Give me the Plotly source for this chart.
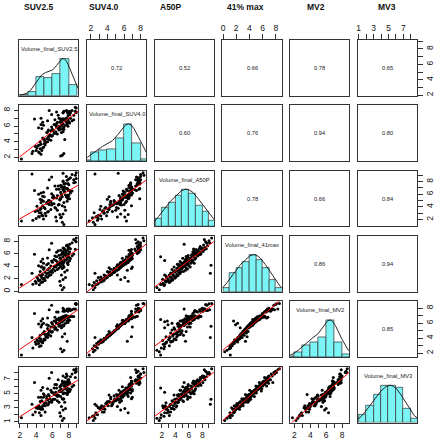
import numpy as np
import plotly.graph_objects as go

# ---------------- data ----------------
titles = ["SUV2.5", "SUV4.0", "A50P", "41% max", "MV2", "MV3"]
diag_names = ["Volume_final_SUV2.5", "Volume_final_SUV4.0", "Volume_final_A50P",
              "Volume_final_41max", "Volume_final_MV2", "Volume_final_MV3"]

suv25 = [7.2, 7.4, 7.0, 2.2, 4.4, 3.6, 6.9, 4.0, 4.6, 4.8, 3.9, 4.3, 5.1, 4.5, 7.3, 4.9,
         4.2, 5.0, 4.7, 5.4, 4.1, 7.6, 5.2, 4.6, 5.6, 4.4, 5.8, 4.8, 7.1, 5.3, 3.5, 5.5,
         6.0, 5.1, 7.5, 5.7, 4.5, 6.3, 5.9, 7.8, 5.4, 6.6, 4.9, 6.1, 7.2, 5.6, 6.8, 5.0,
         7.4, 6.4, 4.6, 4.7, 6.2, 7.0, 5.8, 4.3, 6.5, 7.3, 5.3, 7.9, 6.7, 7.1, 5.5, 4.9,
         6.9, 7.8, 6.0, 7.4, 7.2, 6.6, 4.6, 5.9, 7.0, 8.1, 6.4, 7.6, 7.3, 6.8, 7.9, 7.1,
         7.5, 6.2, 7.8, 4.8, 8.2, 6.9, 5.4, 7.0, 8.0, 7.3, 6.5, 7.7, 6.3, 8.4, 7.9, 6.8,
         7.5, 7.5, 7.1, 3.8, 8.6, 7.4, 8.0, 7.7, 7.2, 6.5, 7.6, 8.1, 7.3, 6.7, 7.8, 7.0,
         5.6, 7.5, 8.8, 7.9, 8.2, 7.4, 7.3, 8.0, 7.9, 7.7, 7.8, 8.1, 5.9, 8.4, 8.9, 8.8,
         8.6, 8.9]
suv40 = [2.3, 2.5, 2.2, 1.8, 2.6, 2.8, 6.5, 2.9, 2.4, 3.2, 3.4, 2.7, 3.6, 3.1, 5.6, 3.3,
         3.5, 3.8, 2.9, 4.0, 3.2, 6.1, 3.9, 3.7, 4.3, 3.6, 4.2, 4.5, 5.2, 4.4, 2.5, 4.6,
         4.8, 4.1, 4.3, 4.9, 4.0, 5.1, 4.7, 6.4, 5.3, 5.0, 4.4, 5.4, 6.9, 4.8, 5.5, 4.2,
         5.6, 5.3, 7.0, 5.7, 5.1, 5.6, 5.4, 5.8, 5.9, 5.3, 5.2, 6.0, 5.7, 6.2, 5.5, 6.1,
         5.8, 6.3, 5.6, 5.9, 6.0, 6.5, 6.2, 5.9, 6.6, 6.4, 6.1, 6.7, 6.3, 6.0, 6.5, 6.6,
         6.8, 6.2, 6.9, 6.5, 7.0, 5.8, 6.7, 6.9, 6.6, 6.9, 6.3, 6.6, 6.8, 6.7, 6.9, 7.0,
         6.8, 6.7, 6.6, 6.9, 6.8, 6.9, 7.6, 7.0, 6.9, 7.8, 6.8, 7.5, 7.7, 7.4, 7.9, 6.6,
         8.0, 6.9, 7.9, 7.3, 7.7, 7.9, 7.7, 7.8, 7.6, 8.0, 7.8, 7.9, 7.5, 8.0, 7.7, 8.4,
         7.4, 8.3]
a50p = [1.6, 1.25, 2.3, 1.8, 2.4, 1.9, 2.8, 2.2, 3.1, 2.6, 3.3, 2.5, 3.0, 3.6, 2.9, 2.1,
        3.4, 3.9, 2.7, 3.2, 4.1, 3.5, 2.6, 3.8, 4.4, 3.1, 3.6, 4.2, 2.4, 4.7, 9.2, 3.3,
        4.5, 3.7, 4.0, 4.8, 5.2, 3.9, 4.3, 5.5, 4.6, 3.5, 4.9, 5.8, 4.2, 5.0, 4.4, 5.6,
        4.7, 3.8, 6.2, 5.1, 4.5, 5.3, 4.8, 6.0, 5.4, 9.3, 4.6, 5.7, 4.3, 5.9, 5.0, 6.3,
        5.2, 4.9, 5.5, 6.5, 5.6, 5.8, 4.7, 6.1, 5.4, 6.6, 2.4, 5.9, 6.8, 4.4, 5.3, 6.0,
        6.4, 5.5, 6.9, 5.7, 6.2, 5.1, 7.0, 6.3, 5.8, 6.7, 1.8, 5.6, 7.3, 6.5, 5.9, 6.8,
        7.6, 6.4, 7.1, 6.6, 7.8, 7.0, 7.5, 6.9, 7.2, 6.8, 7.7, 6.6, 8.1, 7.3, 6.9, 7.4,
        8.3, 7.1, 7.9, 6.7, 8.6, 7.6, 8.0, 8.4, 7.7, 8.8, 8.2, 5.3, 8.7, 9.1, 8.5, 9.0,
        8.3, 9.4]
max41 = [0.25, 0.6, 0.95, 1.1, 1.05, 1.15, 1.6, 1.3, 1.4, 1.5, 1.6, 1.7, 1.75, 1.8, 1.9, 1.95,
         2.05, 2.1, 2.2, 2.25, 2.3, 2.2, 2.45, 2.5, 2.55, 2.6, 2.65, 2.7, 2.6, 2.85, 2.9, 2.95,
         3.0, 3.05, 3.1, 3.15, 3.2, 3.3, 3.35, 3.4, 3.45, 3.5, 3.55, 3.6, 3.65, 3.7, 3.75, 3.8,
         3.85, 3.9, 3.92, 3.95, 3.98, 4.0, 4.05, 4.1, 4.15, 4.2, 4.25, 4.3, 4.35, 4.4, 4.45, 4.5,
         4.55, 4.6, 4.65, 4.7, 4.72, 4.75, 4.8, 4.85, 4.88, 4.9, 4.95, 4.98, 4.5, 4.3, 4.62, 5.0,
         5.05, 5.1, 5.15, 5.2, 5.25, 5.3, 5.35, 5.4, 5.45, 5.5, 5.55, 5.6, 5.65, 5.7, 5.75, 5.8,
         5.85, 5.88, 5.9, 5.95, 5.98, 6.0, 6.05, 6.1, 6.2, 6.25, 6.3, 6.35, 6.4, 6.5, 6.55, 6.6,
         6.65, 6.7, 6.75, 6.8, 6.85, 6.9, 6.95, 7.05, 7.2, 7.3, 7.45, 7.55, 7.7, 7.8, 7.95, 8.1,
         8.3, 8.55]
mv2 = [2.2, 2.4, 2.6, 1.75, 2.9, 2.7, 6.3, 3.2, 3.0, 3.4, 3.5, 3.3, 3.8, 3.6, 5.8, 3.7,
       3.6, 3.9, 3.5, 4.1, 3.8, 6.0, 4.2, 3.9, 4.4, 4.0, 4.3, 4.6, 5.4, 4.5, 4.1, 4.7,
       4.9, 4.5, 4.6, 5.0, 4.4, 5.2, 4.8, 3.6, 5.3, 5.1, 4.7, 5.5, 4.2, 5.0, 5.6, 4.9,
       5.7, 5.4, 5.5, 5.8, 5.6, 5.7, 5.5, 5.9, 6.0, 5.6, 5.8, 6.1, 5.9, 6.2, 5.7, 6.0,
       6.1, 6.3, 5.9, 6.4, 6.2, 6.5, 6.3, 6.1, 6.6, 6.4, 6.2, 6.7, 6.5, 6.0, 6.4, 6.5,
       6.6, 6.3, 6.8, 6.6, 6.9, 6.4, 6.7, 6.6, 6.8, 6.9, 6.5, 7.0, 6.8, 6.9, 6.9, 6.7,
       6.95, 7.0, 6.8, 7.3, 6.9, 6.9, 6.95, 7.0, 6.8, 7.5, 6.9, 6.9, 7.6, 7.5, 7.7, 6.7,
       7.8, 7.6, 7.9, 6.8, 7.7, 7.8, 8.0, 7.9, 7.6, 7.7, 7.9, 7.9, 8.4, 7.8, 8.5, 8.6,
       7.9, 8.65]
mv3 = [1.2, 1.5, 1.8, 1.6, 2.3, 2.0, 2.3, 3.0, 1.9, 2.8, 2.4, 3.3, 2.4, 2.9, 2.7, 3.3,
       2.9, 3.6, 3.0, 3.4, 3.1, 2.9, 3.7, 2.8, 3.8, 3.2, 3.9, 3.3, 3.2, 4.3, 3.5, 3.5,
       4.1, 3.3, 3.8, 4.3, 3.9, 4.2, 3.8, 4.9, 4.1, 4.0, 4.5, 4.2, 4.3, 4.7, 3.8, 4.8,
       4.3, 4.8, 4.5, 4.0, 4.9, 4.6, 5.5, 4.5, 4.9, 4.2, 4.6, 5.2, 4.8, 5.3, 4.9, 5.0,
       5.3, 5.0, 5.2, 5.1, 5.5, 4.6, 5.5, 5.2, 5.6, 5.3, 5.2, 6.1, 5.0, 4.7, 5.2, 5.6,
       5.1, 5.8, 5.5, 5.9, 5.6, 6.0, 5.7, 6.1, 5.7, 6.6, 5.8, 5.9, 6.3, 6.0, 6.3, 5.4,
       6.5, 5.7, 6.3, 6.6, 6.2, 6.1, 6.7, 6.4, 6.8, 6.3, 7.3, 6.5, 6.6, 7.0, 6.7, 6.1,
       7.2, 6.7, 7.3, 6.8, 7.4, 6.5, 7.5, 7.0, 7.0, 7.8, 7.5, 6.6, 8.0, 7.8, 8.2, 8.0,
       8.4, 8.55]

# correlation labels shown in the upper panels (row-major upper triangle)
corr_labels = ["0.72", "0.52", "0.66", "0.78", "0.65",
               "0.60", "0.76", "0.94", "0.80",
               "0.78", "0.66", "0.84",
               "0.86", "0.94",
               "0.85"]

# axis ticks per variable
tick_vals = [[2, 3, 4, 5, 6, 7, 8, 9], [2, 3, 4, 5, 6, 7, 8], [2, 3, 4, 5, 6, 7, 8, 9],
             [0, 2, 4, 6, 8], [2, 3, 4, 5, 6, 7, 8], [1, 2, 3, 4, 5, 6, 7, 8]]
tick_text = [["2", "", "4", "", "6", "", "8", ""], ["2", "", "4", "", "6", "", "8"],
             ["2", "", "4", "", "6", "", "8", ""], ["0", "2", "4", "6", "8"],
             ["2", "", "4", "", "6", "", "8"], ["1", "", "3", "", "5", "", "7", ""]]

# ---------------- styling / geometry ----------------
W, H = 435, 440
X0, XP, PW = 17.3, 68.07, 59.4
Y0, YP, PH = 40.0, 65.5, 56.0
title_x = [37.5, 102.5, 170.0, 245.0, 315.5, 386.5]
FONT = "Liberation Sans, Arial, Helvetica, sans-serif"
FRAME = "#333333"
HIST_COL = "#7af4f4"

data = [np.array(v, dtype=float) for v in (suv25, suv40, a50p, max41, mv2, mv3)]


def padded_range(v):
    lo, hi = float(v.min()), float(v.max())
    p = 0.04 * (hi - lo)
    return [lo - p, hi + p]


ranges = [padded_range(v) for v in data]


def hist_counts(v):
    lo_b = np.floor(v.min())
    hi_b = np.ceil(v.max())
    breaks = np.arange(lo_b, hi_b + 1)
    counts = np.zeros(len(breaks) - 1)
    for x in v:
        i = int(np.ceil(x - lo_b)) - 1
        i = min(max(i, 0), len(counts) - 1)
        counts[i] += 1
    return breaks, counts


def kde(v):
    n = len(v)
    sd = np.std(v, ddof=1)
    q75, q25 = np.percentile(v, [75, 25])
    bw = 1.06 * min(sd, (q75 - q25) / 1.34) * n ** (-0.2) * 1.2
    g = np.linspace(v.min() - 3 * bw, v.max() + 3 * bw, 400)
    d = np.exp(-0.5 * ((g[:, None] - v[None, :]) / bw) ** 2).sum(axis=1)
    return g, d / d.max()


fig = go.Figure()
layout = {}
annotations = []
upper_i = 0

for r in range(6):
    for c in range(6):
        k = r * 6 + c + 1
        xa = "x" if k == 1 else f"x{k}"
        ya = "y" if k == 1 else f"y{k}"
        xkey = "xaxis" if k == 1 else f"xaxis{k}"
        ykey = "yaxis" if k == 1 else f"yaxis{k}"
        left = X0 + c * XP
        top = Y0 + r * YP
        base = dict(showgrid=False, zeroline=False, showline=True, mirror=True,
                    linecolor=FRAME, linewidth=1, ticks="", showticklabels=False,
                    fixedrange=True)
        xax = dict(base, domain=[left / W, (left + PW) / W], anchor=ya, range=ranges[c])
        yax = dict(base, domain=[1 - (top + PH) / H, 1 - top / H], anchor=xa,
                   range=[0, 1.5] if r == c else ranges[r])
        tick_style = dict(ticks="outside", ticklen=4.5, tickwidth=1, tickcolor=FRAME,
                          showticklabels=True, tickfont=dict(family=FONT, size=8.5, color="#111"))
        if r == 0 and c % 2 == 1:
            xax.update(tick_style, side="top", tickvals=tick_vals[c], ticktext=tick_text[c])
        if r == 5 and c % 2 == 0:
            xax.update(tick_style, side="bottom", tickvals=tick_vals[c], ticktext=tick_text[c])
        if c == 0 and r % 2 == 1:
            yax.update(tick_style, side="left", tickvals=tick_vals[r], ticktext=tick_text[r],
                       tickangle=-90)
        if c == 5 and r % 2 == 0:
            yax.update(tick_style, side="right", tickvals=tick_vals[r], ticktext=tick_text[r],
                       tickangle=-90)
        layout[xkey] = xax
        layout[ykey] = yax

        if r == c:
            v = data[c]
            breaks, counts = hist_counts(v)
            fig.add_trace(go.Bar(x=(breaks[:-1] + breaks[1:]) / 2, y=counts / counts.max(),
                                 width=1.0, marker=dict(color=HIST_COL,
                                                        line=dict(color="#333333", width=0.7)),
                                 xaxis=xa, yaxis=ya, showlegend=False, hoverinfo="skip"))
            gx, gy = kde(v)
            fig.add_trace(go.Scatter(x=gx, y=gy, mode="lines",
                                     line=dict(color="#111111", width=0.9),
                                     xaxis=xa, yaxis=ya, showlegend=False, hoverinfo="skip"))
            annotations.append(dict(text=diag_names[c], x=0.5, y=0.84,
                                    xref=f"{xa} domain", yref=f"{ya} domain",
                                    showarrow=False, xanchor="center", yanchor="middle",
                                    font=dict(family=FONT, size=5.8, color="#222")))
        elif r > c:
            xv, yv = data[c], data[r]
            fig.add_trace(go.Scatter(x=xv, y=yv, mode="markers",
                                     marker=dict(color="black", size=3.0, line=dict(width=0)),
                                     xaxis=xa, yaxis=ya, showlegend=False, hoverinfo="skip"))
            slope, icpt = np.polyfit(xv, yv, 1)
            lx = np.array(ranges[c])
            fig.add_trace(go.Scatter(x=lx, y=icpt + slope * lx, mode="lines",
                                     line=dict(color="red", width=1),
                                     xaxis=xa, yaxis=ya, showlegend=False, hoverinfo="skip"))
        else:
            fig.add_trace(go.Scatter(x=[], y=[], mode="markers", xaxis=xa, yaxis=ya,
                                     showlegend=False, hoverinfo="skip"))
            annotations.append(dict(text=corr_labels[upper_i], x=0.5, y=0.5,
                                    xref=f"{xa} domain", yref=f"{ya} domain",
                                    showarrow=False, xanchor="center", yanchor="middle",
                                    font=dict(family=FONT, size=5.8, color="#222")))
            upper_i += 1

for i, t in enumerate(titles):
    annotations.append(dict(text=f"<b>{t}</b>", x=title_x[i] / W, y=1 - 7 / H,
                            xref="paper", yref="paper", showarrow=False,
                            xanchor="center", yanchor="middle",
                            font=dict(family=FONT, size=8.5, color="#111")))

fig.update_layout(**layout)
fig.update_layout(width=W, height=H, margin=dict(l=0, r=0, t=0, b=0),
                  paper_bgcolor="white", plot_bgcolor="white",
                  annotations=annotations, bargap=0, showlegend=False)
fig.write_html("out.html", config={"displayModeBar": False},
               post_script="document.body.style.margin='0';document.body.style.overflow='hidden';")
